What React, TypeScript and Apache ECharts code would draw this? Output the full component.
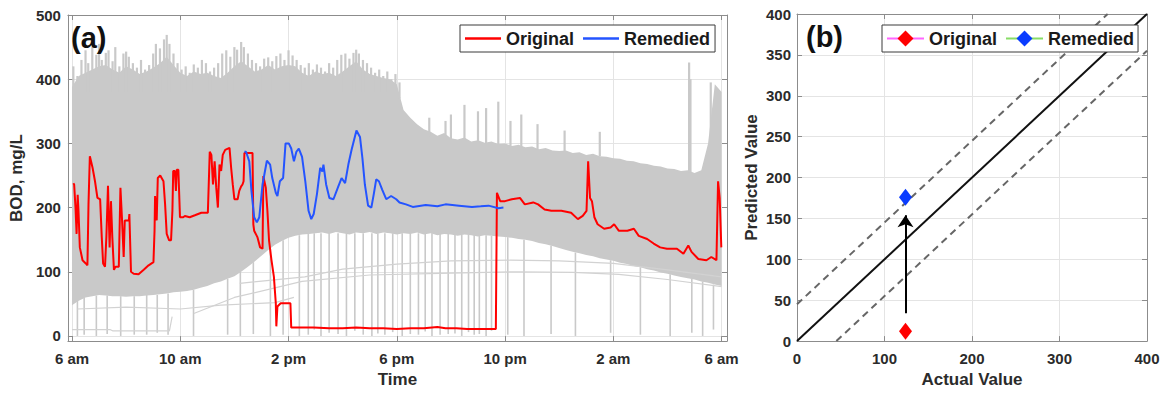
import React, { useEffect, useRef } from "react";
import * as echarts from "echarts";

// ---------- panel (a): BOD time series ----------
// x values are hours after 6 am
const HOUR_TICKS = [0, 4, 8, 12, 16, 20, 24];
const HOUR_TICK_LABELS = ["6 am", "10 am", "2 pm", "6 pm", "10 pm", "2 am", "6 am"];
const BOD_TICKS = [0, 100, 200, 300, 400, 500];

// envelope of the simulated scenario cloud, sampled every quarter hour
const BAND_START = 0;
const BAND_STEP = 0.25;
const BAND_UPPER = [
  388, 405, 410, 415, 420, 422, 415, 410, 420, 415, 408, 412, 418, 425, 435, 422,
  410, 405, 412, 408, 410, 405, 402, 410, 420, 428, 420, 412, 415, 422, 415, 420,
  422, 420, 410, 405, 412, 408, 410, 405, 412, 420, 428, 415, 408, 405, 402, 400,
  392, 352, 340, 330, 322, 318, 312, 316, 308, 306, 309, 303, 305, 301, 303, 299,
  300, 296, 298, 294, 295, 291, 293, 289, 288, 289, 285, 286, 282, 284, 280, 279,
  277, 276, 273, 272, 269, 268, 265, 264, 261, 260, 257, 258, 254, 258, 300, 392,
  380,
];
const BAND_LOWER = [
  48, 55, 60, 62, 64, 63, 62, 62, 61, 62, 62, 63, 64, 65, 66, 68,
  69, 70, 72, 75, 78, 82, 85, 89, 93, 100, 108, 116, 125, 134, 142, 148,
  153, 156, 158, 159, 160, 161, 159, 162, 160, 158, 161, 160, 162, 159, 161, 160,
  158, 160, 159, 161, 158, 160, 157, 159, 158, 156, 158, 157, 155, 157, 156, 155,
  154, 153, 151, 150, 148, 145, 143, 140, 137, 134, 131, 129, 126, 124, 121, 119,
  117, 114, 112, 109, 107, 104, 102, 99, 97, 94, 92, 90, 88, 85, 83, 80,
  78,
];

// individual scenario traces that fall towards zero: [hour, low, high]
const DROP_LINES = [
  [0.2, 0, 55], [0.45, 2, 60], [0.9, 0, 63], [1.3, 3, 63], [1.8, 0, 62], [2.3, 2, 62],
  [2.76, 2, 64], [3.15, 5, 64], [3.55, 2, 66], [4.49, 0, 72], [5.75, 2, 89], [6.22, 0, 100],
  [6.7, 3, 115], [7.33, 0, 136], [7.8, 2, 149], [8.4, 0, 157], [8.73, 2, 159], [8.95, 10, 160],
  [9.2, 0, 160], [9.5, 5, 160], [9.83, 3, 160], [10.14, 0, 160], [10.45, 8, 160], [10.76, 2, 160],
  [11.08, 0, 160], [11.3, 4, 160], [11.56, 2, 160], [11.85, 6, 160], [12.2, 0, 160], [12.5, 3, 160],
  [12.8, 2, 160], [13.05, 7, 160], [13.3, 0, 160], [13.6, 2, 160], [13.9, 3, 160], [14.15, 4, 158],
  [14.4, 0, 158], [14.65, 6, 158], [14.86, 2, 158], [15.05, 3, 157], [15.3, 0, 157], [15.5, 8, 156],
  [16.1, 2, 154], [16.7, 0, 150], [17.7, 3, 141], [18.6, 0, 130], [19.9, 5, 118], [21.0, 2, 107],
  [22.1, 0, 96], [22.9, 5, 89], [23.3, 0, 85], [23.7, 10, 80],
];
// traces that rise above the dense part of the cloud: [hour, low, high]
const PEAK_LINES = [
  [0.05, 380, 420], [0.2, 380, 405], [0.35, 380, 430], [0.5, 380, 445], [0.6, 380, 425], [0.75, 380, 450],
  [0.9, 380, 438], [1.0, 380, 455], [1.1, 380, 430], [1.25, 380, 441], [1.35, 380, 445], [1.5, 380, 428],
  [1.6, 380, 450], [1.75, 380, 420], [1.9, 380, 440], [2.0, 380, 443], [2.1, 380, 435], [2.25, 380, 425],
  [2.4, 380, 418], [2.55, 380, 430], [2.7, 380, 415], [2.85, 380, 422], [3.0, 380, 440], [3.1, 380, 455],
  [3.25, 380, 448], [3.4, 380, 462], [3.5, 380, 469], [3.6, 380, 455], [3.75, 380, 440], [3.9, 380, 425],
  [4.05, 380, 415], [4.2, 380, 420], [4.35, 380, 410], [4.5, 380, 423], [4.65, 380, 418], [4.8, 380, 430],
  [4.95, 380, 425], [5.1, 380, 412], [5.25, 380, 418], [5.4, 380, 425], [5.55, 380, 440], [5.7, 380, 445],
  [5.85, 380, 435], [6.0, 380, 450], [6.1, 380, 446], [6.25, 380, 458], [6.35, 380, 450], [6.5, 380, 440],
  [6.65, 380, 430], [6.8, 380, 425], [6.95, 380, 420], [7.1, 380, 432], [7.25, 380, 434], [7.4, 380, 428],
  [7.55, 380, 436], [7.7, 380, 440], [7.85, 380, 430], [8.0, 380, 445], [8.15, 380, 437], [8.3, 380, 430],
  [8.45, 380, 422], [8.6, 380, 418], [8.75, 380, 425], [8.9, 380, 415], [9.05, 380, 423], [9.2, 380, 418],
  [9.35, 380, 412], [9.5, 380, 425], [9.65, 380, 418], [9.8, 380, 430], [9.95, 380, 438], [10.1, 380, 440],
  [10.25, 380, 432], [10.4, 380, 441], [10.5, 380, 446], [10.6, 380, 440], [10.75, 380, 430], [10.9, 380, 425],
  [11.05, 380, 418], [11.2, 380, 410], [11.35, 380, 415], [11.5, 380, 405], [11.65, 380, 412], [11.8, 380, 400],
  [11.95, 380, 408], [12.1, 370, 395],
  [13.2, 310, 340], [13.8, 310, 335], [14.0, 305, 345], [14.5, 303, 360], [15.0, 300, 350],
  [15.3, 300, 355], [15.75, 298, 365], [16.2, 296, 335], [16.6, 294, 345], [17.2, 290, 330],
  [18.2, 286, 320], [19.5, 280, 318], [22.8, 255, 426], [22.85, 255, 400], [23.6, 300, 395],
];
// sparse low-lying scenario traces
const TRACE_A = [[0, 10], [1.4, 10], [1.5, 8], [3.6, 8], [3.7, 30]];
const TRACE_B = [[0.2, 42], [2, 45], [4, 42], [5.5, 48], [7.5, 52], [8.2, 60]];
const TRACE_C = [[4.5, 35], [6, 60], [8.5, 85], [11, 95], [14, 98], [16.5, 100], [18.5, 99], [20.2, 96], [22, 88], [24, 77]];
const TRACE_D = [[6.2, 82], [8.6, 92], [10, 104], [12, 112], [14, 117], [16.2, 118], [18, 117], [20, 113], [22, 103], [24, 92]];

const ORIGINAL = [
  [0.05, 238], [0.08, 236], [0.13, 200], [0.17, 159], [0.21, 220], [0.24, 195], [0.29, 138], [0.39, 118],
  [0.51, 113], [0.57, 110], [0.61, 205], [0.66, 280], [0.76, 262], [0.85, 241], [0.94, 215], [1.04, 213],
  [1.1, 154], [1.15, 113], [1.22, 108], [1.27, 154], [1.33, 234], [1.39, 138], [1.44, 210], [1.49, 154],
  [1.55, 103], [1.61, 108], [1.73, 108], [1.79, 231], [1.85, 180], [1.91, 123], [1.95, 180], [2.04, 180],
  [2.1, 180], [2.12, 190], [2.18, 100], [2.28, 97], [2.46, 96], [2.65, 103], [2.83, 110], [3.01, 115],
  [3.05, 164], [3.07, 218], [3.13, 180], [3.17, 246], [3.26, 250], [3.38, 241], [3.44, 205], [3.5, 159],
  [3.59, 149], [3.66, 149], [3.71, 195], [3.74, 257], [3.8, 257], [3.84, 226], [3.87, 259], [3.93, 259],
  [3.99, 185], [4.11, 185], [4.17, 187], [4.35, 185], [4.54, 188], [4.78, 192], [5.02, 192], [5.09, 287],
  [5.15, 282], [5.21, 236], [5.27, 272], [5.33, 231], [5.39, 200], [5.45, 267], [5.51, 257], [5.57, 282],
  [5.66, 290], [5.82, 293], [5.88, 262], [5.94, 236], [6.0, 213], [6.12, 213], [6.18, 226], [6.25, 233],
  [6.3, 236], [6.34, 241], [6.37, 285], [6.55, 285], [6.67, 285], [6.7, 174], [6.73, 164], [6.85, 154],
  [6.95, 138], [7.04, 136], [7.07, 249], [7.16, 231], [7.22, 195], [7.28, 149], [7.37, 118], [7.46, 92],
  [7.53, 51], [7.55, 15], [7.59, 46], [7.71, 51], [8.01, 51], [8.07, 51], [8.1, 13], [8.93, 13],
  [9.5, 12], [10, 12], [10.5, 13], [11, 12], [11.5, 12], [12, 11], [12.5, 12], [13, 12],
  [13.5, 14], [13.8, 12], [14.2, 12], [14.6, 11], [15, 11], [15.4, 11], [15.66, 11], [15.7, 223],
  [15.82, 210], [16.0, 210], [16.25, 213], [16.55, 215], [16.73, 205], [17.04, 208], [17.22, 205], [17.46, 197],
  [17.71, 195], [18.08, 195], [18.44, 192], [18.69, 182], [18.87, 187], [19.01, 195], [19.07, 272], [19.14, 215],
  [19.21, 210], [19.3, 185], [19.42, 174], [19.66, 167], [19.9, 169], [20.03, 174], [20.2, 164], [20.52, 164],
  [20.76, 167], [20.94, 156], [21.25, 151], [21.49, 144], [21.73, 138], [21.98, 136], [22.35, 136], [22.59, 128],
  [22.77, 141], [22.89, 131], [23.14, 120], [23.44, 118], [23.62, 123], [23.81, 118], [23.87, 241], [23.93, 215],
  [23.99, 138],
];
const REMEDIED = [
  [6.37, 287], [6.43, 287], [6.55, 272], [6.63, 226], [6.73, 185], [6.83, 177], [6.92, 185], [7.04, 236],
  [7.2, 273], [7.32, 267], [7.4, 246], [7.53, 223], [7.59, 218], [7.68, 241], [7.8, 246], [7.89, 300],
  [8.01, 300], [8.1, 292], [8.2, 272], [8.29, 287], [8.38, 292], [8.5, 279], [8.62, 241], [8.74, 195],
  [8.84, 182], [8.93, 190], [9.05, 221], [9.17, 262], [9.25, 256], [9.29, 267], [9.39, 236], [9.51, 215],
  [9.66, 213], [9.84, 233], [9.96, 246], [10.09, 238], [10.21, 267], [10.33, 290], [10.51, 320], [10.64, 310],
  [10.73, 277], [10.82, 236], [10.94, 203], [11.06, 200], [11.15, 221], [11.24, 244], [11.34, 241], [11.46, 228],
  [11.61, 213], [11.79, 218], [11.98, 213], [12.1, 208], [12.34, 205], [12.59, 201], [13.07, 204], [13.5, 202],
  [13.8, 205], [14.3, 203], [14.78, 201], [15.1, 202], [15.39, 203], [15.76, 199], [15.94, 200],
];

// ---------- panel (b): predicted vs actual ----------
const ACTUAL_VALUE = 124;
const PREDICTED_ORIGINAL = 12;
const PREDICTED_REMEDIED = 176;
const ARROW_FROM = 34;
const ARROW_TO = 154;
const IDEAL_LINE = [[0, 0], [400, 400]];
const UPPER_LIMIT = [[0, 45], [355, 400]];
const LOWER_LIMIT = [[45, 0], [400, 355]];
const LEGEND_B_LABELS: Record<string, string> = { OriginalPoint: "Original", RemediedPoint: "Remedied" };

const FONT = "'Liberation Sans', Arial, Helvetica, sans-serif";
const CLOUD = "#c9c9c9";
const TRACE = "#d2d2d2";
const AXIS = "#8c8c8c";
const GRID = "#e4e4e4";
const LABEL = { fontFamily: FONT, fontSize: 15, fontWeight: "bold" as const, color: "#2b2b2b" };
const TITLE = { fontFamily: FONT, fontSize: 17, fontWeight: "bold" as const, color: "#2b2b2b" };

function mirrorAxis(idx: number, pos: string, min: number, max: number, extra: any) {
  return {
    type: "value",
    gridIndex: idx,
    position: pos,
    min,
    max,
    axisLine: { show: true, onZero: false, lineStyle: { color: AXIS, width: 1 } },
    axisTick: { show: true, inside: true, length: 5, lineStyle: { color: AXIS }, ...(extra.axisTick || {}) },
    axisLabel: { show: false },
    splitLine: { show: false },
    ...(extra.interval !== undefined ? { interval: extra.interval } : {}),
  };
}

export default function App() {
  const ref = useRef<HTMLDivElement>(null);

  useEffect(() => {
    document.body.style.margin = "0";
    if (!ref.current) return;
    const chart = echarts.init(ref.current, undefined, { renderer: "svg" });

    const verticalLine = (color: string, width: number) => (params: any, api: any) => {
      const x = api.value(0);
      const p1 = api.coord([x, api.value(1)]);
      const p2 = api.coord([x, api.value(2)]);
      return {
        type: "line",
        shape: { x1: p1[0], y1: p1[1], x2: p2[0], y2: p2[1] },
        style: { stroke: color, lineWidth: width },
      };
    };

    const traceSeries = (data: number[][]) => ({
      type: "line",
      xAxisIndex: 0,
      yAxisIndex: 0,
      data,
      symbol: "none",
      silent: true,
      lineStyle: { color: TRACE, width: 1.2 },
      z: 2,
    });

    const option: any = {
      animation: false,
      backgroundColor: "#ffffff",
      textStyle: { fontFamily: FONT },
      title: [
        { text: "(a)", left: 71, top: 23, padding: 0, textStyle: { fontFamily: FONT, fontSize: 29, fontWeight: "bold", color: "#111" } },
        { text: "(b)", left: 806, top: 22, padding: 0, textStyle: { fontFamily: FONT, fontSize: 29, fontWeight: "bold", color: "#111" } },
      ],
      legend: [
        {
          data: ["Original", "Remedied"],
          left: 460,
          top: 25,
          orient: "horizontal",
          icon: "rect",
          itemWidth: 36,
          itemHeight: 2.5,
          itemGap: 9,
          itemTextGap: 5,
          padding: [3, 5],
          borderColor: "#3a3a3a",
          borderWidth: 1,
          backgroundColor: "#ffffff",
          selectedMode: false,
          textStyle: { fontFamily: FONT, fontSize: 18, fontWeight: "bold", color: "#1a1a1a", lineHeight: 21 },
        },
        {
          data: ["OriginalPoint", "RemediedPoint"],
          formatter: (n: string) => LEGEND_B_LABELS[n] || n,
          left: 882,
          top: 25,
          orient: "horizontal",
          itemWidth: 37,
          itemHeight: 20,
          itemGap: 8,
          itemTextGap: 5,
          padding: [3, 4],
          borderColor: "#3a3a3a",
          borderWidth: 1,
          backgroundColor: "#ffffff",
          selectedMode: false,
          textStyle: { fontFamily: FONT, fontSize: 18, fontWeight: "bold", color: "#1a1a1a", lineHeight: 21 },
        },
      ],
      grid: [
        { left: 62, right: 441, top: 15, bottom: 48 },
        { left: 797, right: 21, top: 14, bottom: 47 },
      ],
      xAxis: [
        {
          type: "value",
          gridIndex: 0,
          min: -0.15,
          max: 24.2,
          name: "Time",
          nameLocation: "middle",
          nameGap: 29,
          nameTextStyle: TITLE,
          axisLine: { show: true, onZero: false, lineStyle: { color: AXIS, width: 1 } },
          axisTick: { show: true, inside: true, length: 5, customValues: HOUR_TICKS, lineStyle: { color: AXIS } },
          axisLabel: {
            ...LABEL,
            margin: 10,
            customValues: HOUR_TICKS,
            formatter: (v: number) => HOUR_TICK_LABELS[HOUR_TICKS.indexOf(v)] ?? "",
          },
          splitLine: { show: true, lineStyle: { color: GRID, width: 1 } },
        },
        mirrorAxis(0, "top", -0.15, 24.2, { axisTick: { customValues: HOUR_TICKS } }),
        {
          type: "value",
          gridIndex: 1,
          min: 0,
          max: 400,
          interval: 100,
          name: "Actual Value",
          nameLocation: "middle",
          nameGap: 28,
          nameTextStyle: TITLE,
          axisLine: { show: true, onZero: false, lineStyle: { color: AXIS, width: 1 } },
          axisTick: { show: true, inside: true, length: 5, lineStyle: { color: AXIS } },
          axisLabel: { ...LABEL, margin: 10 },
          splitLine: { show: true, lineStyle: { color: GRID, width: 1 } },
        },
        mirrorAxis(1, "top", 0, 400, { interval: 100 }),
      ],
      yAxis: [
        {
          type: "value",
          gridIndex: 0,
          min: -8,
          max: 500,
          name: "BOD, mg/L",
          nameLocation: "middle",
          nameGap: 37,
          nameTextStyle: TITLE,
          axisLine: { show: true, onZero: false, lineStyle: { color: AXIS, width: 1 } },
          axisTick: { show: true, inside: true, length: 5, customValues: BOD_TICKS, lineStyle: { color: AXIS } },
          axisLabel: { ...LABEL, margin: 7, customValues: BOD_TICKS },
          splitLine: { show: true, lineStyle: { color: GRID, width: 1 } },
        },
        mirrorAxis(0, "right", -8, 500, { axisTick: { customValues: BOD_TICKS } }),
        {
          type: "value",
          gridIndex: 1,
          min: 0,
          max: 400,
          interval: 50,
          name: "Predicted Value",
          nameLocation: "middle",
          nameGap: 37,
          nameTextStyle: TITLE,
          axisLine: { show: true, onZero: false, lineStyle: { color: AXIS, width: 1 } },
          axisTick: { show: true, inside: true, length: 5, lineStyle: { color: AXIS } },
          axisLabel: { ...LABEL, margin: 6 },
          splitLine: { show: true, lineStyle: { color: GRID, width: 1 } },
        },
        mirrorAxis(1, "right", 0, 400, { interval: 50 }),
      ],
      series: [
        // scenario cloud
        {
          type: "custom",
          name: "cloud",
          xAxisIndex: 0,
          yAxisIndex: 0,
          silent: true,
          clip: true,
          z: 1,
          data: [[BAND_START, BAND_LOWER[0]]],
          renderItem: (params: any, api: any) => {
            if (params.dataIndex !== 0) return null;
            const pts: number[][] = [];
            BAND_UPPER.forEach((v, i) => pts.push(api.coord([BAND_START + i * BAND_STEP, v])));
            for (let i = BAND_LOWER.length - 1; i >= 0; i--) {
              pts.push(api.coord([BAND_START + i * BAND_STEP, BAND_LOWER[i]]));
            }
            return { type: "polygon", shape: { points: pts }, style: { fill: CLOUD } };
          },
        },
        {
          type: "custom",
          name: "drops",
          xAxisIndex: 0,
          yAxisIndex: 0,
          silent: true,
          clip: true,
          z: 1,
          encode: { x: 0, y: [1, 2] },
          data: DROP_LINES,
          renderItem: verticalLine(CLOUD, 1.6),
        },
        {
          type: "custom",
          name: "peaks",
          xAxisIndex: 0,
          yAxisIndex: 0,
          silent: true,
          clip: true,
          z: 1,
          encode: { x: 0, y: [1, 2] },
          data: PEAK_LINES,
          renderItem: verticalLine(CLOUD, 2.2),
        },
        traceSeries(TRACE_A),
        traceSeries(TRACE_B),
        traceSeries(TRACE_C),
        traceSeries(TRACE_D),
        {
          type: "line",
          name: "Original",
          xAxisIndex: 0,
          yAxisIndex: 0,
          data: ORIGINAL,
          symbol: "none",
          itemStyle: { color: "#ff0000" },
          lineStyle: { color: "#ff0000", width: 2 },
          z: 3,
        },
        {
          type: "line",
          name: "Remedied",
          xAxisIndex: 0,
          yAxisIndex: 0,
          data: REMEDIED,
          symbol: "none",
          itemStyle: { color: "#2454ff" },
          lineStyle: { color: "#2454ff", width: 2 },
          z: 4,
        },
        // panel (b)
        {
          type: "line",
          name: "ideal",
          xAxisIndex: 2,
          yAxisIndex: 2,
          data: IDEAL_LINE,
          symbol: "none",
          silent: true,
          lineStyle: { color: "#111111", width: 2 },
          z: 3,
          markLine: {
            silent: true,
            symbol: ["none", "arrow"],
            symbolSize: 12,
            label: { show: false },
            lineStyle: { color: "#000000", width: 2, type: "solid" },
            data: [[{ coord: [ACTUAL_VALUE, ARROW_FROM] }, { coord: [ACTUAL_VALUE, ARROW_TO] }]],
          },
        },
        {
          type: "line",
          name: "upperLimit",
          xAxisIndex: 2,
          yAxisIndex: 2,
          data: UPPER_LIMIT,
          symbol: "none",
          silent: true,
          lineStyle: { color: "#666666", width: 2, type: [7, 5] },
          z: 3,
        },
        {
          type: "line",
          name: "lowerLimit",
          xAxisIndex: 2,
          yAxisIndex: 2,
          data: LOWER_LIMIT,
          symbol: "none",
          silent: true,
          lineStyle: { color: "#666666", width: 2, type: [7, 5] },
          z: 3,
        },
        {
          type: "line",
          name: "OriginalPoint",
          xAxisIndex: 2,
          yAxisIndex: 2,
          data: [[ACTUAL_VALUE, PREDICTED_ORIGINAL]],
          symbol: "diamond",
          symbolSize: [13, 17],
          showSymbol: true,
          itemStyle: { color: "#ff0000" },
          lineStyle: { color: "#ff66ff", width: 1 },
          z: 5,
        },
        {
          type: "line",
          name: "RemediedPoint",
          xAxisIndex: 2,
          yAxisIndex: 2,
          data: [[ACTUAL_VALUE, PREDICTED_REMEDIED]],
          symbol: "diamond",
          symbolSize: [13, 17],
          showSymbol: true,
          itemStyle: { color: "#0a3cff" },
          lineStyle: { color: "#88dd66", width: 1 },
          z: 5,
        },
      ],
    };

    chart.setOption(option);
    return () => chart.dispose();
  }, []);

  return <div ref={ref} style={{ width: 1168, height: 393 }} />;
}
